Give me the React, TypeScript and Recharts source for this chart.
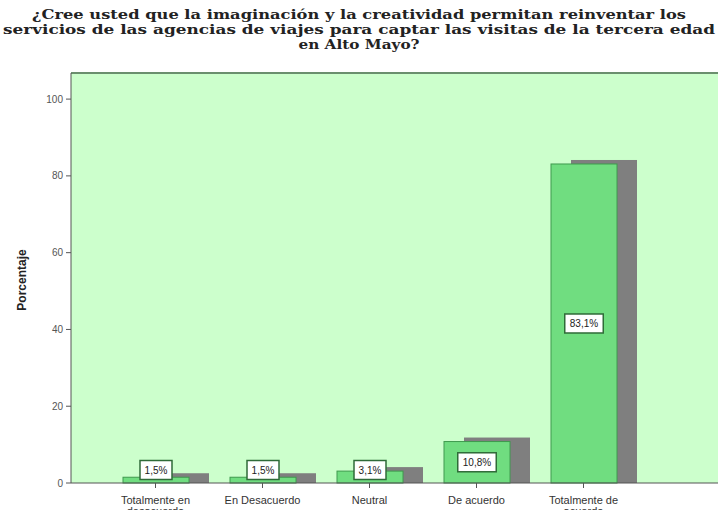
import React from 'react';
import { BarChart, Bar, XAxis, YAxis, CartesianGrid, ReferenceLine, LabelList } from 'recharts';

const categories = ['Totalmente en desacuerdo', 'En Desacuerdo', 'Neutral', 'De acuerdo', 'Totalmente de acuerdo'];
const percentages = [1.5, 1.5, 3.1, 10.8, 83.1];
const yTicks = [0, 20, 40, 60, 80, 100];

const titleLines = [
  '¿Cree usted que la imaginación y la creatividad permitan reinventar los',
  'servicios de las agencias de viajes para captar las visitas de la tercera edad',
  'en Alto Mayo?',
];
// approximate rendered width of each title line in the reference
const titleWidths = [654, 712, 121];

const data = categories.map((name, i) => ({ name, value: percentages[i] }));

const Y_MAX = 106.8;
const AXIS_Y = 483;

// greedy word wrap by character count
function wrap(s: string, max: number) {
  const lines: string[] = [];
  let cur = '';
  for (const w of s.split(' ')) {
    const next = cur ? cur + ' ' + w : w;
    if (next.length > max && cur) {
      lines.push(cur);
      cur = w;
    } else {
      cur = next;
    }
  }
  if (cur) lines.push(cur);
  return lines;
}

// green bar with a grey "3D" shadow behind it
function ShadowBar(props: any) {
  const { x, y, width, height } = props;
  return (
    <g>
      <rect x={x + 20} y={y - 4} width={width} height={height + 4} fill="#7f7f7f" />
      <rect x={x} y={y} width={width} height={height} fill="#70DD80" stroke="#3f9a4e" strokeWidth={1} />
    </g>
  );
}

function ValueLabel(props: any) {
  const { x, y, width, height, value } = props;
  const txt = String(value).replace('.', ',') + '%';
  const w = txt.length * 6.5 + 6;
  const h = 19;
  const cx = x + width / 2;
  const cy = Math.min(y + height / 2, AXIS_Y - 13);
  return (
    <g>
      <rect x={cx - w / 2} y={cy - h / 2} width={w} height={h} fill="#ffffff" stroke="#2f6b38" strokeWidth={1.5} />
      <text x={cx} y={cy + 4} textAnchor="middle" fontSize={10} fontFamily="Liberation Sans, Arial" fill="#222">
        {txt}
      </text>
    </g>
  );
}

function CategoryTick(props: any) {
  const { x, y, payload } = props;
  const lines = wrap(String(payload.value), 14);
  return (
    <text x={x} y={y + 14} textAnchor="middle" fontSize={11} fontFamily="Liberation Sans, Arial" fill="#333">
      {lines.map((l, i) => (
        <tspan key={i} x={x} dy={i === 0 ? 0 : 11}>
          {l}
        </tspan>
      ))}
    </text>
  );
}

function YLabel() {
  const cy = 280;
  return (
    <text
      x={26}
      y={cy}
      transform={`rotate(-90, 26, ${cy})`}
      textAnchor="middle"
      fontSize={12}
      fontWeight="bold"
      fontFamily="Liberation Sans, Arial"
      fill="#222"
    >
      Porcentaje
    </text>
  );
}

export default function App() {
  return (
    <div style={{ position: 'absolute', left: 0, top: 0, width: 718, height: 510, background: '#fff', overflow: 'hidden' }}>
      <svg width={718} height={60} style={{ position: 'absolute', left: 0, top: 0 }}>
        {titleLines.map((line, i) => (
          <text
            key={i}
            x={359}
            y={19 + i * 15}
            textAnchor="middle"
            textLength={titleWidths[i]}
            lengthAdjust="spacingAndGlyphs"
            fontFamily="DejaVu Serif, serif"
            fontWeight="bold"
            fontSize={13}
            fill="#222"
          >
            {line}
          </text>
        ))}
      </svg>
      <BarChart
        width={718}
        height={510}
        data={data}
        margin={{ top: 73, right: 0, left: 0, bottom: 0 }}
        barSize={66}
        style={{ position: 'absolute', left: 0, top: 0 }}
      >
        <CartesianGrid fill="#CCFFCC" horizontal={false} vertical={false} />
        <ReferenceLine y={Y_MAX} stroke="#6b8f6e" strokeWidth={2} />
        <XAxis
          dataKey="name"
          height={27}
          padding={{ left: 31, right: 81 }}
          tickSize={5}
          stroke="#555"
          tick={<CategoryTick />}
          interval={0}
        />
        <YAxis
          width={71}
          domain={[0, Y_MAX]}
          ticks={yTicks}
          tickSize={5}
          tickMargin={3}
          stroke="#555"
          tick={{ fontSize: 10, fill: '#555', fontFamily: 'Liberation Sans, Arial' }}
          label={<YLabel />}
        />
        <Bar dataKey="value" shape={<ShadowBar />} isAnimationActive={false}>
          <LabelList dataKey="value" content={<ValueLabel />} />
        </Bar>
      </BarChart>
    </div>
  );
}
